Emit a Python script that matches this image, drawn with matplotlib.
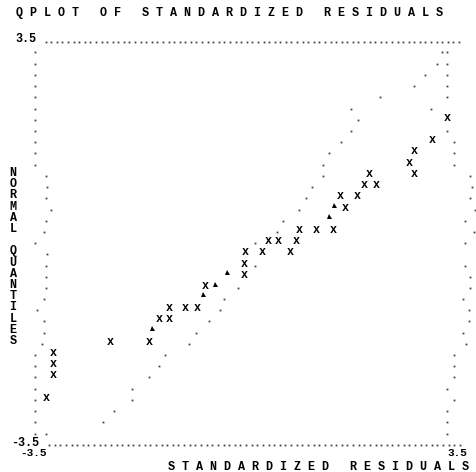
import matplotlib.pyplot as plt
import numpy as np
from matplotlib.transforms import offset_copy

# normal quantile rows (y) and standardized residuals (x)
resid_x = [3.29, 3.04, 2.75, 2.67, 2.01, 2.75, 1.92, 2.12, 1.52, 1.80, 1.61,
           0.86, 1.13, 1.41, 0.34, 0.51, 0.80, -0.04, 0.25, 0.71, -0.06, -0.06,
           -0.69, -1.29, -1.02, -0.83, -1.46, -1.29, -2.26, -1.62, -3.20, -3.20,
           -3.20, -3.31]
resid_y = [2.14, 1.75, 1.56, 1.36, 1.17, 1.17, 0.97, 0.97, 0.78, 0.78, 0.58,
           0.19, 0.19, 0.19, 0.00, 0.00, 0.00, -0.19, -0.19, -0.19, -0.39, -0.58,
           -0.78, -1.17, -1.17, -1.17, -1.36, -1.36, -1.75, -1.75, -1.94, -2.14,
           -2.33, -2.72]

tri_x = [1.42, 1.34, -0.33, -0.53, -0.73, -1.58]
tri_y = [0.58, 0.39, -0.58, -0.78, -0.97, -1.56]

ref_x = [3.20, 3.12, 2.92, 2.74, 2.19, 1.71, 1.82, 1.71, 1.54, 1.34, 1.25,
         1.25, 1.07, 0.96, 0.85, 0.59, 0.48, 0.13, 0.13, -0.16, -0.38, -0.46,
         -0.64, -0.84, -0.97, -1.36, -1.45, -1.63, -1.91, -1.91, -2.20, -2.38,
         -3.32]
ref_y = [3.31, 3.11, 2.92, 2.72, 2.53, 2.33, 2.14, 1.94, 1.75, 1.56, 1.36,
         1.17, 0.97, 0.78, 0.58, 0.39, 0.19, 0.00, -0.39, -0.78, -0.97, -1.17,
         -1.36, -1.56, -1.75, -1.94, -2.14, -2.33, -2.53, -2.72, -2.92, -3.11,
         -3.31]

lo_x = [-3.50] * 11 + [-3.32, -3.30, -3.32, -3.24, -3.32, -3.35, -3.50, -3.30,
                       -3.32, -3.32, -3.32, -3.35, -3.46, -3.35, -3.35, -3.39] + [-3.50] * 8
lo_y = [3.31, 3.11, 2.92, 2.72, 2.53, 2.33, 2.14, 1.94, 1.75, 1.56, 1.36,
        1.17, 0.97, 0.78, 0.58, 0.39, 0.19, 0.00, -0.19, -0.39, -0.58, -0.78,
        -0.97, -1.17, -1.36, -1.56, -1.75, -1.94, -2.14, -2.33, -2.53, -2.72,
        -2.92, -3.11, -3.31]

hi_x = [3.29, 3.29, 3.29, 3.29, 3.29, 3.03, 3.29, 3.40, 3.40, 3.40, 3.67,
        3.69, 3.67, 3.75, 3.58, 3.73, 3.58, 3.58, 3.67, 3.67, 3.55, 3.64,
        3.64, 3.55, 3.60, 3.40, 3.40, 3.40, 3.29, 3.40, 3.29, 3.29, 3.29]
hi_y = [3.31, 3.11, 2.92, 2.72, 2.53, 2.33, 1.94, 1.75, 1.56, 1.36, 1.17,
        0.97, 0.78, 0.58, 0.39, 0.19, 0.00, -0.39, -0.58, -0.78, -0.97, -1.17,
        -1.36, -1.56, -1.75, -1.94, -2.14, -2.33, -2.53, -2.72, -2.92, -3.11,
        -3.31]

W, H = 476, 472
XL, XR = 35, 460      # pixel of -3.5 / 3.5
YT, YB = 41.5, 444.7  # pixel of 3.5 / -3.5

def px2x(p):
    return -3.5 + (p - XL) * 7 / (XR - XL)

def py2y(p):
    return 3.5 - (p - YT) * 7 / (YB - YT)

mono = dict(family='Liberation Mono', weight='bold', color='black')
fs = 8.5

fig = plt.figure(figsize=(W / 100, H / 100), dpi=100)
ax = fig.add_axes([0, 0, 1, 1])
ax.set_xlim(px2x(0), px2x(W))
ax.set_ylim(py2y(H), py2y(0))
ax.axis('off')

dot = dict(marker='s', ms=1.3, color='#444444', mew=0, ls='none', clip_on=False)

# dotted frame lines at +-3.5
ax.plot(np.linspace(px2x(45.7), px2x(459), 75), np.full(75, 3.5), **dot)
ax.plot(np.linspace(px2x(49), px2x(460), 74), np.full(74, -3.5), **dot)

ax.plot(lo_x, lo_y, **dot)
ax.plot(ref_x, ref_y, **dot)
ax.plot(hi_x, hi_y, **dot)

up = offset_copy(ax.transData, fig=fig, x=0, y=4.5, units='dots')
ax.plot(tri_x, tri_y, marker='^', ms=3.6, color='black', mew=0, ls='none',
        transform=up)

xt = offset_copy(ax.transData, fig=fig, x=0, y=-1, units='dots')
for x, y in zip(resid_x, resid_y):
    ax.text(x, y, 'x', ha='center', va='baseline', fontsize=fs, transform=xt, **mono)

def ftext(x, y, s, ha='left', size=fs):
    fig.text(x / W, 1 - y / H, s, ha=ha, va='center', fontsize=size, **mono)

ftext(16.5, 13, 'Q P L O T   O F   S T A N D A R D I Z E D   R E S I D U A L S')
ftext(15.5, 39.5, '3.5')
ftext(11.5, 442.5, '-3.5')
ftext(20, 453, '-3.5', size=8)
ftext(447, 453, '3.5', size=8)
ftext(168, 467, 'S T A N D A R D I Z E D   R E S I D U A L S')

label = 'NORMAL QUANTILES'
for i, ch in enumerate(label):
    ftext(13, YT + (12 + i) * (YB - YT) / 36 - 3, ch, ha='center')

fig.savefig('out.png', dpi=100)
